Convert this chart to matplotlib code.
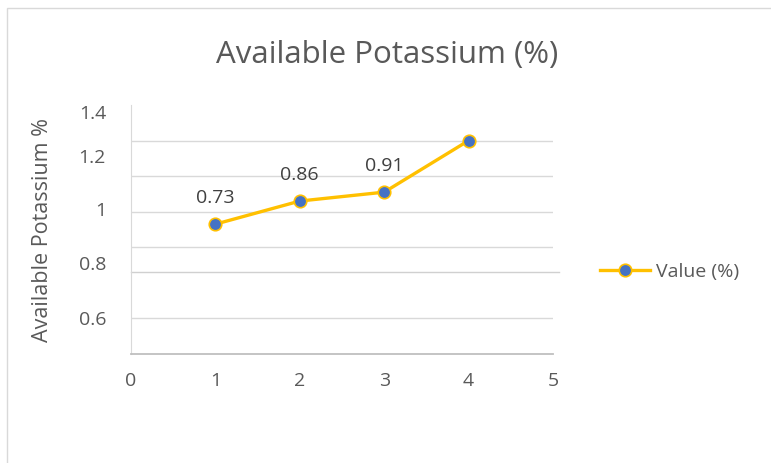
import matplotlib
matplotlib.use("Agg")
import matplotlib.pyplot as plt
from matplotlib.patches import Rectangle

# data
x_vals = [1, 2, 3, 4]
y_vals = [0.73, 0.86, 0.91, 1.20]
point_labels = ["0.73", "0.86", "0.91", ""]
series_name = "Value (%)"

# axis text as it appears on the picture
ytick_pos = [1.36, 1.113, 0.815, 0.51, 0.2]
ytick_labels = ["1.4", "1.2", "1", "0.8", "0.6"]
xtick_vals = [0, 1, 2, 3, 4, 5]
grid_levels = [0.2, 0.6, 0.8, 1.0, 1.2]
extra_grid = 0.46

plt.rcParams['font.family'] = ['Open Sans', 'DejaVu Sans']

fig = plt.figure(figsize=(7.71, 4.63), dpi=100)
fig.patches.append(Rectangle((7 / 771, -0.1), 1.2, (455 / 463) + 0.1,
                             transform=fig.transFigure, fill=False,
                             edgecolor='#d9d9d9', linewidth=1.0))

ax = fig.add_axes([131 / 771, 109 / 463, 422 / 771, 249 / 463])
ax.set_xlim(0, 5)
ax.set_ylim(0, 1.4)

for g in grid_levels:
    ax.axhline(g, color='#d9d9d9', linewidth=1.0, zorder=1)
ax.plot([0, 5.07], [extra_grid, extra_grid], color='#d0d0d0', linewidth=1.0,
        zorder=1, clip_on=False)

ax.plot(x_vals, y_vals, color='#FFC000', linewidth=2.4, marker='o',
        markersize=9, markerfacecolor='#4472C4', markeredgecolor='#FFC000',
        markeredgewidth=1.2, label=series_name, zorder=3)

for xv, yv, lab in zip(x_vals, y_vals, point_labels):
    if lab:
        ax.annotate(lab, (xv, yv), xytext=(0, 19), textcoords='offset points',
                    ha='center', va='center', fontsize=14, color='#404040')

for s in ['top', 'right']:
    ax.spines[s].set_visible(False)
ax.spines['left'].set_color('#d9d9d9')
ax.spines['bottom'].set_color('#bfbfbf')
ax.spines['bottom'].set_linewidth(1.3)

ax.set_yticks(ytick_pos)
ax.set_yticklabels(ytick_labels)
ax.set_xticks(xtick_vals)
ax.tick_params(axis='both', length=0, labelsize=14, labelcolor='#595959')
ax.tick_params(axis='x', pad=13)
ax.tick_params(axis='y', pad=18)

ax.set_ylabel("Available Potassium %", fontsize=15.5, color='#595959', labelpad=18)
fig.text(387 / 771, 1 - 55 / 463, "Available Potassium (%)", ha='center',
         va='center', fontsize=22.5, color='#595959')

ax.legend(loc='center left', bbox_to_anchor=(582 / 771, 1 - 272 / 463),
          frameon=False, fontsize=14, labelcolor='#595959', handlelength=2.6,
          handletextpad=0.3, bbox_transform=fig.transFigure)

fig.savefig("out.png", dpi=100)
